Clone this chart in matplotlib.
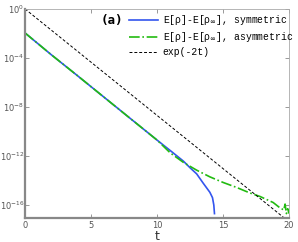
import numpy as np
import matplotlib
matplotlib.use('Agg')
import matplotlib.pyplot as plt

# curves (t, value)
t_sym = [0, 2, 4, 6, 8, 10, 11, 12, 12.5, 13, 13.5, 14, 14.2, 14.3, 14.35]
y_sym = [1.1e-2, 1.8e-4, 3.4e-6, 6.1e-8, 1.1e-9, 2.0e-11, 2.8e-12, 3.8e-13,
         1.1e-13, 3.5e-14, 6e-15, 1.1e-15, 4e-16, 1e-16, 2e-17]

t_asym = [0, 2, 4, 6, 8, 10, 10.5, 11, 12, 13, 14, 15, 16, 17, 17.8, 18.8,
          19.3, 19.6, 19.7, 19.8, 19.9, 20]
y_asym = [1.1e-2, 1.8e-4, 3.4e-6, 6.1e-8, 1.1e-9, 2.0e-11, 6e-12, 1.8e-12,
          3e-13, 7e-14, 2e-14, 7e-15, 2.8e-15, 1e-15, 5e-16, 1.6e-16,
          6e-17, 4e-17, 1.2e-16, 2e-17, 5e-17, 2e-17]

t_ref = np.linspace(0, 20, 201)

fig = plt.figure(figsize=(2.98, 2.42), dpi=100)
ax = fig.add_axes([0.084, 0.099, 0.886, 0.864])

ax.semilogy(t_sym, y_sym, color='#3355ee', lw=1.2, label='E[ρ]-E[ρ$_\\infty$], symmetric')
ax.semilogy(t_asym, y_asym, color='#22bb11', lw=1.2, ls='-.', label='E[ρ]-E[ρ$_\\infty$], asymmetric')
ax.semilogy(t_ref, np.exp(-2 * t_ref), color='k', lw=0.7, ls=(0, (3, 2)), label='exp(-2t)')

ax.set_xlim(0, 20)
ax.set_ylim(8.7e-18, 1)
ax.set_xticks([0, 5, 10, 15, 20])
ax.set_yticks([1, 1e-4, 1e-8, 1e-12, 1e-16])
ax.yaxis.set_minor_locator(matplotlib.ticker.NullLocator())
ax.tick_params(direction='in', length=3, width=0.6, colors='#888888',
               labelcolor='#555555', labelsize=6, top=True, right=True)
ax.tick_params(axis='x', pad=2)
ax.tick_params(axis='y', pad=0.5)

for side in ['left', 'bottom']:
    ax.spines[side].set_color('#888888')
    ax.spines[side].set_linewidth(1.6)
for side in ['top', 'right']:
    ax.spines[side].set_color('#aaaaaa')
    ax.spines[side].set_linewidth(0.6)

ax.set_xlabel('t', fontsize=9, color='#333333', labelpad=0)

leg = ax.legend(loc='upper left', bbox_to_anchor=(0.432, 0.945), bbox_transform=fig.transFigure,
                frameon=False, prop={'family': 'Liberation Mono', 'size': 7},
                handlelength=3.0, handletextpad=0.5, labelspacing=0.3,
                borderaxespad=0, borderpad=0)
ax.text(0.285, 0.975, '(a)', transform=ax.transAxes, fontsize=9,
        fontweight='bold', family='DejaVu Sans Mono', va='top')

fig.savefig('out.png', dpi=100)
